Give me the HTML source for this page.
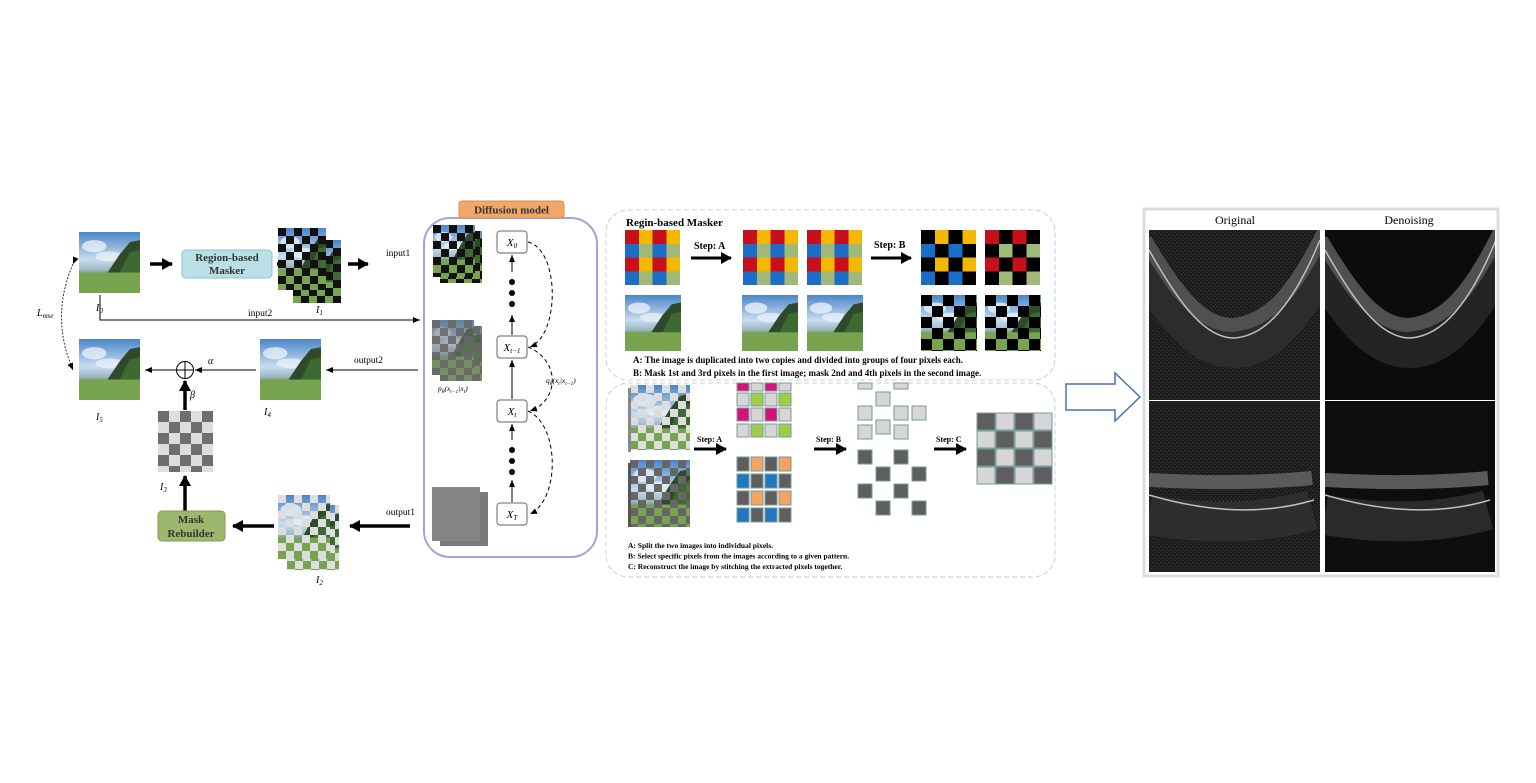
<!DOCTYPE html>
<html><head><meta charset="utf-8"><style>
html,body{margin:0;padding:0;background:#fff;width:1536px;height:783px;overflow:hidden}
svg{display:block}
text{font-family:"Liberation Serif",serif}
.b{font-weight:bold}
</style></head><body>
<svg width="1536" height="783" viewBox="0 0 1536 783" xmlns="http://www.w3.org/2000/svg">
<defs>
<linearGradient id="sky" x1="0" y1="0" x2="0" y2="1">
<stop offset="0" stop-color="#4a86c8"/><stop offset="0.45" stop-color="#c8dcef"/><stop offset="0.62" stop-color="#9fb8c4"/><stop offset="0.66" stop-color="#7fa58a"/><stop offset="1" stop-color="#6f9c4a"/></linearGradient>
<symbol id="land" viewBox="0 0 60 60" preserveAspectRatio="none">
<rect width="60" height="60" fill="url(#sky)"/>
<ellipse cx="15" cy="14" rx="12" ry="6" fill="#e8f0f8" opacity=".8"/>
<ellipse cx="30" cy="24" rx="14" ry="5" fill="#eef4fa" opacity=".7"/>
<path d="M28 40 L40 22 L50 10 L60 8 L60 40 Z" fill="#2e4a2a"/>
<path d="M40 40 L50 20 L60 18 L60 40Z" fill="#3d6a30"/>
<rect y="40" width="60" height="20" fill="#78a450"/>
</symbol>
<symbol id="gC" viewBox="0 0 4 4" preserveAspectRatio="none" shape-rendering="crispEdges">
<rect width="4" height="4" fill="#a0b878"/>
<rect x="0" y="0" width="1" height="1" fill="#c8101a"/><rect x="2" y="0" width="1" height="1" fill="#c8101a"/><rect x="0" y="2" width="1" height="1" fill="#c8101a"/><rect x="2" y="2" width="1" height="1" fill="#c8101a"/>
<rect x="1" y="0" width="1" height="1" fill="#f5b800"/><rect x="3" y="0" width="1" height="1" fill="#f5b800"/><rect x="1" y="2" width="1" height="1" fill="#f5b800"/><rect x="3" y="2" width="1" height="1" fill="#f5b800"/>
<rect x="0" y="1" width="1" height="1" fill="#1a6ec8"/><rect x="2" y="1" width="1" height="1" fill="#1a6ec8"/><rect x="0" y="3" width="1" height="1" fill="#1a6ec8"/><rect x="2" y="3" width="1" height="1" fill="#1a6ec8"/>
</symbol>
<symbol id="gA" viewBox="0 0 4 4" preserveAspectRatio="none" shape-rendering="crispEdges">
<rect width="4" height="4" fill="#000"/>
<rect x="1" y="0" width="1" height="1" fill="#f5b800"/><rect x="3" y="0" width="1" height="1" fill="#f5b800"/><rect x="1" y="2" width="1" height="1" fill="#f5b800"/><rect x="3" y="2" width="1" height="1" fill="#f5b800"/>
<rect x="0" y="1" width="1" height="1" fill="#1a6ec8"/><rect x="2" y="1" width="1" height="1" fill="#1a6ec8"/><rect x="0" y="3" width="1" height="1" fill="#1a6ec8"/><rect x="2" y="3" width="1" height="1" fill="#1a6ec8"/>
</symbol>
<symbol id="gB" viewBox="0 0 4 4" preserveAspectRatio="none" shape-rendering="crispEdges">
<rect width="4" height="4" fill="#000"/>
<rect x="0" y="0" width="1" height="1" fill="#c8101a"/><rect x="2" y="0" width="1" height="1" fill="#c8101a"/><rect x="0" y="2" width="1" height="1" fill="#c8101a"/><rect x="2" y="2" width="1" height="1" fill="#c8101a"/>
<rect x="1" y="1" width="1" height="1" fill="#a0b878"/><rect x="3" y="1" width="1" height="1" fill="#a0b878"/><rect x="1" y="3" width="1" height="1" fill="#a0b878"/><rect x="3" y="3" width="1" height="1" fill="#a0b878"/>
</symbol>
<pattern id="chk" width="16" height="16" patternUnits="userSpaceOnUse"><rect width="8" height="8" fill="#111"/><rect x="8" y="8" width="8" height="8" fill="#111"/></pattern>
<pattern id="chkg" width="16" height="16" patternUnits="userSpaceOnUse"><rect width="8" height="8" fill="#666"/><rect x="8" y="8" width="8" height="8" fill="#666"/></pattern>
<pattern id="chkw" width="16" height="16" patternUnits="userSpaceOnUse"><rect width="8" height="8" fill="#ddd"/><rect x="8" y="8" width="8" height="8" fill="#ddd"/></pattern>
<pattern id="i3" width="22" height="22" patternUnits="userSpaceOnUse"><rect width="22" height="22" fill="#ddd"/><rect width="11" height="11" fill="#6e6e6e"/><rect x="11" y="11" width="11" height="11" fill="#6e6e6e"/></pattern>
<pattern id="mk" width="22" height="22" patternUnits="userSpaceOnUse"><rect width="11" height="11" fill="#000"/><rect x="11" y="11" width="11" height="11" fill="#000"/></pattern>
<pattern id="noise" width="4" height="4" patternUnits="userSpaceOnUse"><rect width="4" height="4" fill="#1c1c1c"/><rect x="1" y="2" width="1" height="1" fill="#444"/><rect x="3" y="0" width="1" height="1" fill="#3a3a3a"/></pattern>
<clipPath id="c1"><rect x="1149" y="230" width="171" height="170"/></clipPath>
<clipPath id="c2"><rect x="1325" y="230" width="170" height="170"/></clipPath>
<clipPath id="c3"><rect x="1149" y="401" width="171" height="171"/></clipPath>
<clipPath id="c4"><rect x="1325" y="401" width="170" height="171"/></clipPath>
<marker id="ah" markerWidth="8" markerHeight="8" refX="7" refY="4" orient="auto" markerUnits="userSpaceOnUse"><path d="M0 1 L7 4 L0 7Z" fill="#000"/></marker>
<marker id="ahb" markerWidth="12" markerHeight="12" refX="10" refY="6" orient="auto" markerUnits="userSpaceOnUse"><path d="M0 0 L11 6 L0 12Z" fill="#000"/></marker>
</defs>

<!-- LEFT DIAGRAM -->
<use href="#land" x="79" y="232" width="61" height="61"/>
<text x="96" y="311" font-size="10" font-style="italic">I<tspan font-size="7" dy="2">0</tspan></text>
<line x1="150" y1="264" x2="172" y2="264" stroke="#000" stroke-width="3.5" marker-end="url(#ahb)"/>
<rect x="182" y="250" width="90" height="28" rx="4" fill="#b9e0e6" stroke="#8cc4cc"/>
<text x="227" y="261" font-size="11" class="b" text-anchor="middle" fill="#333">Region-based</text>
<text x="227" y="274" font-size="11" class="b" text-anchor="middle" fill="#333">Masker</text>
<line x1="277" y1="264" x2="298" y2="264" stroke="#000" stroke-width="3.5" marker-end="url(#ahb)"/>
<g transform="translate(293,240)"><use href="#land" width="48" height="63"/><rect width="48" height="63" fill="url(#chk)"/></g>
<g transform="translate(278,228)"><use href="#land" width="48" height="62"/><rect width="48" height="62" fill="url(#chk)"/></g>
<text x="316" y="313" font-size="10" font-style="italic">I<tspan font-size="7" dy="2">1</tspan></text>
<line x1="348" y1="264" x2="368" y2="264" stroke="#000" stroke-width="3.5" marker-end="url(#ahb)"/>
<text x="386" y="256" font-size="9.5">input1</text>
<polyline points="100,295 100,320 420,320" fill="none" stroke="#000" stroke-width="1" marker-end="url(#ah)"/>
<text x="248" y="316" font-size="9.5">input2</text>
<path d="M73 264 Q50 317 73 370" fill="none" stroke="#333" stroke-width="1" stroke-dasharray="2,1.5" marker-end="url(#ah)" marker-start="url(#ah)"/>
<text x="37" y="316" font-size="10" font-style="italic">L<tspan font-size="7" dy="2">mse</tspan></text>
<use href="#land" x="79" y="339" width="61" height="61"/>
<use href="#land" x="260" y="339" width="61" height="61"/>
<text x="96" y="420" font-size="10" font-style="italic">I<tspan font-size="7" dy="2">5</tspan></text>
<text x="264" y="415" font-size="10" font-style="italic">I<tspan font-size="7" dy="2">4</tspan></text>
<line x1="418" y1="370" x2="326" y2="370" stroke="#000" stroke-width="1" marker-end="url(#ah)"/>
<text x="354" y="363" font-size="9.5">output2</text>
<line x1="256" y1="370" x2="195" y2="370" stroke="#000" stroke-width="1" marker-end="url(#ah)"/>
<text x="208" y="364" font-size="10" font-style="italic">α</text>
<circle cx="185" cy="370" r="8.5" fill="#fff" stroke="#000"/>
<line x1="176.5" y1="370" x2="193.5" y2="370" stroke="#000"/><line x1="185" y1="361.5" x2="185" y2="378.5" stroke="#000"/>
<line x1="176" y1="370" x2="145" y2="370" stroke="#000" stroke-width="1" marker-end="url(#ah)"/>
<line x1="185" y1="410" x2="185" y2="381" stroke="#000" stroke-width="3.5" marker-end="url(#ahb)"/>
<text x="190" y="398" font-size="10" font-style="italic">β</text>
<g transform="translate(158,411)"><rect width="55" height="61" fill="url(#i3)"/></g>
<text x="160" y="490" font-size="10" font-style="italic">I<tspan font-size="7" dy="2">3</tspan></text>
<line x1="185" y1="511" x2="185" y2="476" stroke="#000" stroke-width="3.5" marker-end="url(#ahb)"/>
<rect x="158" y="511" width="67" height="30" rx="4" fill="#9db86d" stroke="#7e9c52"/>
<text x="191" y="523" font-size="11" class="b" text-anchor="middle" fill="#333">Mask</text>
<text x="191" y="537" font-size="11" class="b" text-anchor="middle" fill="#333">Rebuilder</text>
<line x1="274" y1="526" x2="233" y2="526" stroke="#000" stroke-width="3.5" marker-end="url(#ahb)"/>
<g transform="translate(287,505)"><use href="#land" width="52" height="65"/><rect width="52" height="65" fill="url(#chkw)"/></g>
<g transform="translate(278,495)"><use href="#land" width="52" height="64"/><rect width="52" height="64" fill="url(#chkw)"/></g>
<text x="316" y="583" font-size="10" font-style="italic">I<tspan font-size="7" dy="2">2</tspan></text>
<line x1="410" y1="526" x2="350" y2="526" stroke="#000" stroke-width="3.5" marker-end="url(#ahb)"/>
<text x="386" y="515" font-size="9.5">output1</text>

<!-- Diffusion -->
<rect x="424" y="218" width="173" height="339" rx="26" fill="none" stroke="#a8a0d8" stroke-width="2"/>
<rect x="459" y="201" width="105" height="17" rx="3" fill="#f0a868" stroke="#d89050"/>
<text x="511.5" y="213.5" font-size="11" class="b" text-anchor="middle" fill="#333">Diffusion model</text>
<g transform="translate(440,231)"><use href="#land" width="42" height="52"/><rect width="42" height="52" fill="url(#chk)"/></g>
<g transform="translate(433,225)"><use href="#land" width="42" height="52"/><rect width="42" height="52" fill="url(#chk)"/></g>
<g transform="translate(440,326)"><use href="#land" width="42" height="55"/><rect width="42" height="55" fill="#777" opacity=".5"/><rect width="42" height="55" fill="url(#chkg)" opacity=".85"/></g>
<g transform="translate(432,320)"><use href="#land" width="42" height="55"/><rect width="42" height="55" fill="#777" opacity=".5"/><rect width="42" height="55" fill="url(#chkg)" opacity=".85"/></g>
<rect x="440" y="492" width="48" height="54" fill="#7a7a7a"/><rect x="432" y="487" width="48" height="54" fill="#858585"/>
<g font-size="11" font-style="italic" text-anchor="middle">
<rect x="497" y="231" width="30" height="22" rx="3" fill="#fff" stroke="#666"/><text x="512" y="246">X<tspan font-size="7" dy="2">0</tspan></text>
<rect x="497" y="336" width="30" height="22" rx="3" fill="#fff" stroke="#666"/><text x="512" y="351">X<tspan font-size="7" dy="2">t−1</tspan></text>
<rect x="497" y="400" width="30" height="22" rx="3" fill="#fff" stroke="#666"/><text x="512" y="415">X<tspan font-size="7" dy="2">t</tspan></text>
<rect x="497" y="503" width="30" height="22" rx="3" fill="#fff" stroke="#666"/><text x="512" y="518">X<tspan font-size="7" dy="2">T</tspan></text>
</g>
<g stroke="#000" stroke-width="1"><line x1="512" y1="335" x2="512" y2="315" marker-end="url(#ah)"/><line x1="512" y1="272" x2="512" y2="255" marker-end="url(#ah)"/>
<line x1="512" y1="399" x2="512" y2="360" marker-end="url(#ah)"/><line x1="512" y1="502" x2="512" y2="480" marker-end="url(#ah)"/><line x1="512" y1="440" x2="512" y2="424" marker-end="url(#ah)"/></g>
<g fill="#000"><circle cx="512" cy="282" r="3"/><circle cx="512" cy="293" r="3"/><circle cx="512" cy="304" r="3"/><circle cx="512" cy="450" r="3"/><circle cx="512" cy="461" r="3"/><circle cx="512" cy="472" r="3"/></g>
<g fill="none" stroke="#000" stroke-dasharray="4,3" stroke-width="1">
<path d="M528 242 C560 250 560 335 530 347" marker-end="url(#ah)"/>
<path d="M528 347 C560 360 560 400 530 411" marker-end="url(#ah)"/>
<path d="M528 411 C560 425 560 500 530 514" marker-end="url(#ah)"/></g>
<text x="438" y="391" font-size="7.5" font-style="italic">p<tspan font-size="5.5" dy="2">θ</tspan><tspan dy="-2">(x</tspan><tspan font-size="5.5" dy="2">t−1</tspan><tspan dy="-2">|x</tspan><tspan font-size="5.5" dy="2">t</tspan><tspan dy="-2">)</tspan></text>
<text x="546" y="383" font-size="7.5" font-style="italic">q<tspan font-size="5.5" dy="2">θ</tspan><tspan dy="-2">(x</tspan><tspan font-size="5.5" dy="2">t</tspan><tspan dy="-2">|x</tspan><tspan font-size="5.5" dy="2">t−1</tspan><tspan dy="-2">)</tspan></text>

<!-- MIDDLE PANEL TOP -->
<rect x="606" y="210" width="449" height="170" rx="22" fill="none" stroke="#c0d4dc" stroke-dasharray="5,3"/>
<text x="626" y="226" font-size="11" class="b">Regin-based Masker</text>
<use href="#gC" x="625" y="230" width="55" height="55"/>
<use href="#gC" x="743" y="230" width="55" height="55"/>
<use href="#gC" x="807" y="230" width="55" height="55"/>
<use href="#gA" x="921" y="230" width="55" height="55"/>
<use href="#gB" x="985" y="230" width="55" height="55"/>
<line x1="691" y1="258" x2="731" y2="258" stroke="#000" stroke-width="3" marker-end="url(#ahb)"/>
<text x="694" y="249" font-size="10" class="b">Step: A</text>
<line x1="871" y1="258" x2="911" y2="258" stroke="#000" stroke-width="3" marker-end="url(#ahb)"/>
<text x="874" y="248" font-size="10" class="b">Step: B</text>
<use href="#land" x="625" y="295" width="56" height="56"/>
<use href="#land" x="742" y="295" width="56" height="56"/>
<use href="#land" x="807" y="295" width="56" height="56"/>
<g transform="translate(921,295)"><use href="#land" width="56" height="56"/><rect width="56" height="56" fill="url(#mk)"/></g>
<g transform="translate(985,295)"><use href="#land" width="56" height="56"/><rect width="56" height="56" fill="url(#mk)"/></g>
<text x="633" y="363" font-size="9" class="b">A: The image is duplicated into two copies and divided into groups of four pixels each.</text>
<text x="633" y="376" font-size="9" class="b">B: Mask 1st and 3rd pixels in the first image; mask 2nd and 4th pixels in the second image.</text>

<!-- MIDDLE PANEL BOTTOM -->
<rect x="606" y="383" width="449" height="194" rx="22" fill="none" stroke="#c0d4dc" stroke-dasharray="5,3"/>
<g transform="translate(630,385)"><use href="#land" width="60" height="65"/><rect width="60" height="65" fill="url(#chkw)"/></g><rect x="628" y="388" width="3" height="64" fill="#888"/>
<g transform="translate(630,460)"><use href="#land" width="60" height="67"/><rect width="60" height="67" fill="url(#chkg)"/></g><rect x="628" y="463" width="3" height="64" fill="#555"/>
<line x1="694" y1="449" x2="726" y2="449" stroke="#000" stroke-width="3" marker-end="url(#ahb)"/>
<text x="697" y="442" font-size="8" class="b">Step: A</text>
<line x1="814" y1="449" x2="846" y2="449" stroke="#000" stroke-width="3" marker-end="url(#ahb)"/>
<text x="816" y="442" font-size="8" class="b">Step: B</text>
<line x1="934" y1="449" x2="966" y2="449" stroke="#000" stroke-width="3" marker-end="url(#ahb)"/>
<text x="936" y="442" font-size="8" class="b">Step: C</text>
<g stroke="#7a9a9a" stroke-width="1">
<g fill="#d6d6d6">
<rect x="737" y="383" width="12" height="8" fill="#d4127a"/><rect x="751" y="383" width="12" height="8"/><rect x="765" y="383" width="12" height="8" fill="#d4127a"/><rect x="779" y="383" width="12" height="8"/>
<rect x="737" y="393" width="12" height="13"/><rect x="751" y="393" width="12" height="13" fill="#a0cc48"/><rect x="765" y="393" width="12" height="13"/><rect x="779" y="393" width="12" height="13" fill="#a0cc48"/>
<rect x="737" y="408" width="12" height="13" fill="#d4127a"/><rect x="751" y="408" width="12" height="13"/><rect x="765" y="408" width="12" height="13" fill="#d4127a"/><rect x="779" y="408" width="12" height="13"/>
<rect x="737" y="424" width="12" height="13"/><rect x="751" y="424" width="12" height="13" fill="#a0cc48"/><rect x="765" y="424" width="12" height="13"/><rect x="779" y="424" width="12" height="13" fill="#a0cc48"/>
</g>
<g fill="#5e5e5e">
<rect x="737" y="457" width="12" height="14"/><rect x="751" y="457" width="12" height="14" fill="#f4a460"/><rect x="765" y="457" width="12" height="14"/><rect x="779" y="457" width="12" height="14" fill="#f4a460"/>
<rect x="737" y="474" width="12" height="14" fill="#1f78c0"/><rect x="751" y="474" width="12" height="14"/><rect x="765" y="474" width="12" height="14" fill="#1f78c0"/><rect x="779" y="474" width="12" height="14"/>
<rect x="737" y="491" width="12" height="14"/><rect x="751" y="491" width="12" height="14" fill="#f4a460"/><rect x="765" y="491" width="12" height="14"/><rect x="779" y="491" width="12" height="14" fill="#f4a460"/>
<rect x="737" y="508" width="12" height="14" fill="#1f78c0"/><rect x="751" y="508" width="12" height="14"/><rect x="765" y="508" width="12" height="14" fill="#1f78c0"/><rect x="779" y="508" width="12" height="14"/>
</g>
<g fill="#d6d6d6"><rect x="858" y="383" width="14" height="6"/><rect x="894" y="383" width="14" height="6"/><rect x="876" y="392" width="14" height="14"/><rect x="858" y="406" width="14" height="14"/><rect x="894" y="406" width="14" height="14"/><rect x="876" y="420" width="14" height="14"/><rect x="912" y="406" width="14" height="14"/><rect x="858" y="425" width="14" height="14"/><rect x="894" y="425" width="14" height="14"/></g>
<g fill="#5e5e5e"><rect x="858" y="450" width="14" height="14"/><rect x="894" y="450" width="14" height="14"/><rect x="876" y="467" width="14" height="14"/><rect x="912" y="467" width="14" height="14"/><rect x="858" y="484" width="14" height="14"/><rect x="894" y="484" width="14" height="14"/><rect x="876" y="501" width="14" height="14"/><rect x="912" y="501" width="14" height="14"/></g>
<g fill="#d6d6d6"><rect x="977" y="413" width="18" height="17" fill="#5e5e5e"/><rect x="996" y="413" width="18" height="17"/><rect x="1015" y="413" width="18" height="17" fill="#5e5e5e"/><rect x="1034" y="413" width="18" height="17"/>
<rect x="977" y="431" width="18" height="17"/><rect x="996" y="431" width="18" height="17" fill="#5e5e5e"/><rect x="1015" y="431" width="18" height="17"/><rect x="1034" y="431" width="18" height="17" fill="#5e5e5e"/>
<rect x="977" y="449" width="18" height="17" fill="#5e5e5e"/><rect x="996" y="449" width="18" height="17"/><rect x="1015" y="449" width="18" height="17" fill="#5e5e5e"/><rect x="1034" y="449" width="18" height="17"/>
<rect x="977" y="467" width="18" height="17"/><rect x="996" y="467" width="18" height="17" fill="#5e5e5e"/><rect x="1015" y="467" width="18" height="17"/><rect x="1034" y="467" width="18" height="17" fill="#5e5e5e"/></g>
</g>
<g font-size="7.5" class="b"><text x="628" y="548">A: Split the two images into individual pixels.</text>
<text x="628" y="558.5">B: Select specific pixels from the images according to a given pattern.</text>
<text x="628" y="569">C: Reconstruct the image by stitching the extracted pixels together.</text></g>

<path d="M1066 384 L1115 384 L1115 373 L1140 397 L1115 421 L1115 410 L1066 410 Z" fill="#fff" stroke="#4a72b0" stroke-width="1.5"/>

<!-- OCT panel -->
<rect x="1144" y="209" width="354" height="367" fill="#fff" stroke="#dcdcdc" stroke-width="3"/>
<text x="1235" y="224" font-size="12" text-anchor="middle">Original</text>
<text x="1409" y="224" font-size="12" text-anchor="middle">Denoising</text>
<rect x="1149" y="230" width="171" height="170" fill="url(#noise)"/>
<rect x="1149" y="401" width="171" height="171" fill="url(#noise)"/>
<rect x="1325" y="230" width="170" height="170" fill="#0c0c0c"/>
<rect x="1325" y="401" width="170" height="171" fill="#0e0e0e"/>
<g fill="none">
<g clip-path="url(#c1)"><path d="M1140 260 C1175 320 1200 350 1234 350 C1270 350 1300 310 1330 250" stroke="#2c2c2c" stroke-width="36"/><path d="M1145 240 C1175 290 1200 325 1232 325 C1270 322 1295 290 1324 232" stroke="#505050" stroke-width="14"/><path d="M1149 250 C1180 305 1205 338 1234 338 C1268 336 1295 300 1320 240" stroke="#c0c0c0" stroke-width="1.5"/></g>
<g clip-path="url(#c2)"><path d="M1316 260 C1351 320 1376 350 1410 350 C1446 350 1476 310 1506 250" stroke="#242424" stroke-width="36"/><path d="M1321 240 C1351 290 1376 325 1408 325 C1446 322 1471 290 1500 232" stroke="#505050" stroke-width="14"/><path d="M1325 250 C1356 305 1381 338 1410 338 C1444 336 1471 300 1496 240" stroke="#c0c0c0" stroke-width="1.5"/></g>
<g clip-path="url(#c3)"><path d="M1149 515 Q1240 530 1312 510" stroke="#2e2e2e" stroke-width="40"/><path d="M1149 480 Q1240 485 1312 478" stroke="#5a5a5a" stroke-width="14"/><path d="M1149 495 Q1240 522 1314 500" stroke="#c0c0c0" stroke-width="1.5"/></g>
<g clip-path="url(#c4)"><path d="M1325 515 Q1416 530 1488 510" stroke="#2a2a2a" stroke-width="40"/><path d="M1325 480 Q1416 485 1488 478" stroke="#5a5a5a" stroke-width="14"/><path d="M1325 495 Q1416 522 1490 500" stroke="#c0c0c0" stroke-width="1.5"/></g>
</g>
</svg>
</body></html>
